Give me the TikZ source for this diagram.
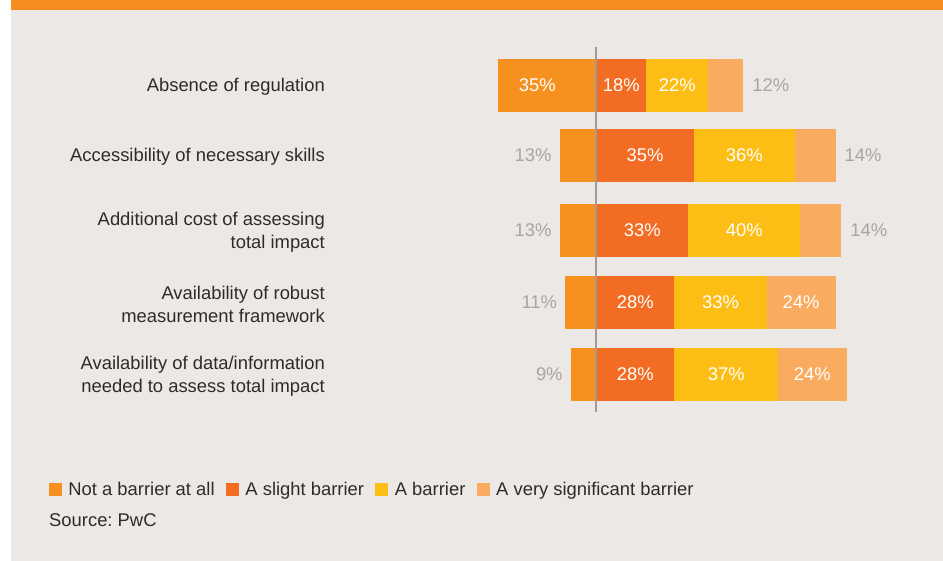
\documentclass[tikz,border=0pt]{standalone}
\usepackage{fontspec}
\setmainfont{Liberation Sans}
\usetikzlibrary{calc,positioning}
\definecolor{panel}{HTML}{ECE8E5}
\definecolor{band}{HTML}{F68D20}
\definecolor{notbar}{HTML}{F6901E}
\definecolor{slightbar}{HTML}{F26D23}
\definecolor{abar}{HTML}{FCBD15}
\definecolor{verybar}{HTML}{F9AC5F}
\definecolor{axisgray}{HTML}{A39A93}
\definecolor{pctgray}{HTML}{ADA49E}
\definecolor{txtdark}{HTML}{2E2B29}
\frenchspacing

\begin{document}
\begin{tikzpicture}[x=1pt,y=-1pt,
    lbl/.style={font=\fontsize{18.4}{23}\selectfont, text=txtdark, inner sep=0pt},
    keytext/.style={lbl, text height=15pt, text depth=3pt},
    pct/.style={font=\fontsize{18.4}{22}\selectfont, text=white, inner sep=0pt},
    outpct/.style={font=\fontsize{18.4}{22}\selectfont, text=pctgray, inner sep=0pt},
    keybox/.style={minimum size=13pt, inner sep=0pt}]

    \useasboundingbox (0,0) rectangle (943,561);
    \fill[white] (0,0) rectangle (943,561);
    \fill[panel] (11,0) rectangle (943,561);
    \fill[band] (11,0) rectangle (943,10);

    % bars: centre / not / slight / barrier / very significant
    \foreach \yc/\a/\b/\c/\d [count=\i] in {85.5/35/18/22/12, 155.5/13/35/36/14,
        230.5/13/33/40/14, 302.5/11/28/33/24, 374.5/9/28/37/24} {
    \coordinate (z\i) at (596,\yc);
    \coordinate (p\i) at ({596+2.8*\b},\yc);
    \coordinate (q\i) at ({596+2.8*(\b+\c)},\yc);
    \coordinate (e\i) at ({596+2.8*(\b+\c+\d)+1.5},\yc);
    \coordinate (s\i) at ({596-2.8*\a},\yc);
    \fill[notbar] ($(s\i)+(0,-26.5)$) rectangle ($(z\i)+(0,26.5)$);
    \fill[slightbar] ($(z\i)+(0,-26.5)$) rectangle ($(p\i)+(0,26.5)$);
    \fill[abar] ($(p\i)+(0,-26.5)$) rectangle ($(q\i)+(0,26.5)$);
    \fill[verybar] ($(q\i)+(0,-26.5)$) rectangle ($(e\i)+(0,26.5)$);
    \node[pct] (b\i) at ($(z\i)!0.5!(p\i)$) {\b\%};
    \node[pct] (c\i) at ($(p\i)!0.5!(q\i)$) {\c\%};
    \ifnum\a<20
      \node[outpct, anchor=east] (a\i) at ($(s\i)+(-8,0)$) {\a\%};
    \else
      \node[pct] (a\i) at ($(s\i)!0.4!(z\i)$) {\a\%};
    \fi
    \ifnum\d<20
      \node[outpct, anchor=west] (d\i) at ($(e\i)+(9,0)$) {\d\%};
    \else
      \node[pct] (d\i) at ($(q\i)!0.5!(e\i)$) {\d\%};
    \fi
    }

    \coordinate (top) at (596,47);
    \coordinate (bot) at (596,412);
    \draw[axisgray, line width=1.6pt] (top) -- (bot);

    \foreach \yc/\t [count=\i] in {87/{Absence of regulation},
        157/{Accessibility of necessary skills},
        232/{Additional cost of assessing\\total impact},
        304/{Availability of robust\\measurement framework},
        376/{Availability of data/information\\needed to assess total impact}} {
    \node[lbl, anchor=east, align=right] (r\i) at (325,\yc) {\t};}

    % legend
    \node[keybox, fill=notbar] (k1) at (55.5,489.5) {};
    \node[keytext, right=6pt of k1] (l1) {Not a barrier at all};
    \node[keybox, fill=slightbar, right=11pt of l1] (k2) {};
    \node[keytext, right=6pt of k2] (l2) {A slight barrier};
    \node[keybox, fill=abar, right=11pt of l2] (k3) {};
    \node[keytext, right=6pt of k3] (l3) {A barrier};
    \node[keybox, fill=verybar, right=11pt of l3] (k4) {};
    \node[keytext, right=6pt of k4] (l4) {A very significant barrier};

    \node[lbl, anchor=base west] (src) at (49,526.5) {Source: PwC};

\end{tikzpicture}
\end{document}
